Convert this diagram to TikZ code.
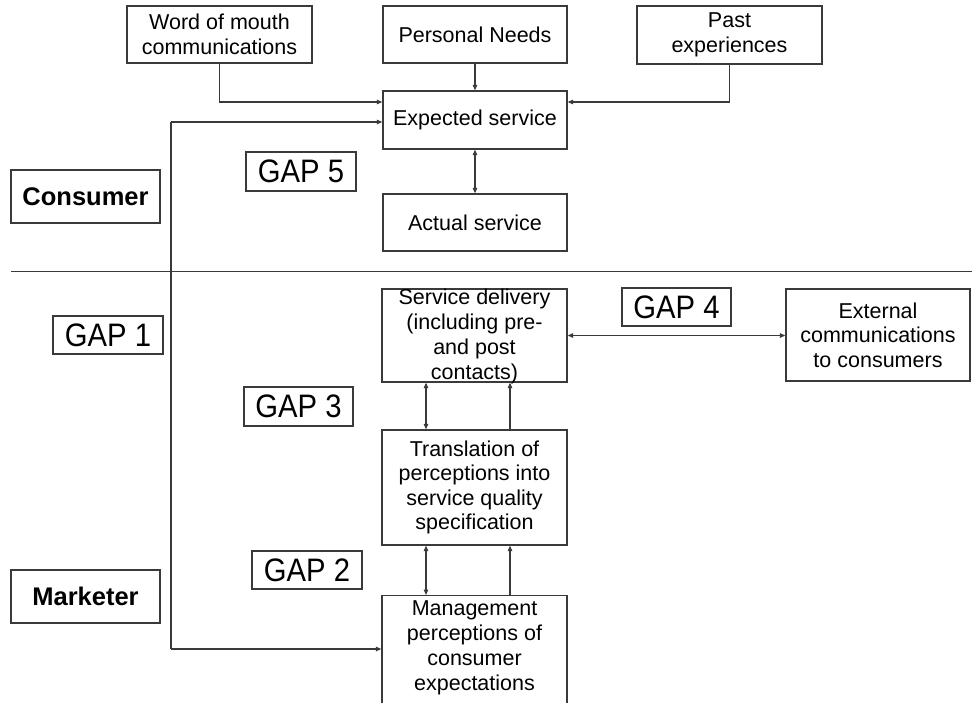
\documentclass[tikz,border=0pt]{standalone}
\usepackage{fontspec}
\setmainfont{Liberation Sans}
\newfontfamily\gapfont{Liberation Sans}[FakeStretch=0.9]
\usetikzlibrary{arrows.meta}
\definecolor{linegray}{HTML}{3A3A3A}
\begin{document}
\begin{tikzpicture}[x=1pt,y=-1pt,
  box/.style={draw=linegray,line width=1.3pt,inner sep=0pt,align=center,
    font=\fontsize{21.5}{24.5}\selectfont},
  size/.style 2 args={minimum width=#1,minimum height=#2},
  gapbox/.style={box,font=\gapfont\fontsize{32.5}{34}\selectfont},
  rolebox/.style={box,font=\fontsize{25.5}{28}\selectfont\bfseries},
  plaintext/.style={inner sep=0pt,align=center,font=\fontsize{21.5}{25}\selectfont},
  conn/.style={draw=linegray,line width=1.1pt},
  tip/.style={-{Triangle[length=5.5pt,width=4.5pt]}},
  twotip/.style={{Triangle[length=5.5pt,width=4.5pt]}-{Triangle[length=5.5pt,width=4.5pt]}}
]
\useasboundingbox (0,0) rectangle (972,702);
\clip (0,0) rectangle (972,702);

% --- consumer side ---
\node[box,size={185}{57}] (wom) at (219.5,34.5) {Word of mouth\\communications};
\node[box,size={184}{57}] (pn) at (475,34.5) {Personal Needs};
\node[box,size={185}{58}] (past) at (729.5,35) {Past\\experiences};
\node[box,size={184}{58}] (exp) at (475,120) {Expected service};
\node[box,size={184}{57}] (act) at (475,222.5) {Actual service};
\node[gapbox,size={110}{39}] (gap5) at (301,171.5) {GAP 5};
\node[rolebox,size={149}{53}] (cons) at (85.5,196.5) {Consumer};

% divider between consumer and marketer
\draw[linegray,line width=1pt] (11,271) -- (972,271);

% --- marketer side ---
\node[box,size={185}{93}] (sd) at (474.5,335.5) {};
\node[plaintext] (sdt) at (474.5,336) {Service delivery\\(including pre-\\and post\\contacts)};
\node[gapbox,size={109}{38}] (gap4) at (676.5,307) {GAP 4};
\node[box,size={184}{92}] (ext) at (878,335) {External\\communications\\to consumers};
\node[gapbox,size={110}{38}] (gap1) at (108,335) {GAP 1};
\node[gapbox,size={109}{39}] (gap3) at (298.5,406.5) {GAP 3};
\node[box,size={185}{115}] (tr) at (474.5,487.5) {Translation of\\perceptions into\\service quality\\specification};
\node[gapbox,size={110}{38}] (gap2) at (307,570) {GAP 2};
\node[rolebox,size={149}{53}] (mk) at (85.5,596.5) {Marketer};
\node[box,size={185}{130},anchor=north] (mg) at (474.5,595) {};
\node[plaintext] (mgt) at (474.5,648) {Management\\perceptions of\\consumer\\expectations};

% --- connectors ---
\draw[conn,tip] (wom.south) |- ([yshift=18pt]exp.west);
\draw[conn,tip] (pn) -- (exp);
\draw[conn,tip] (past.south) |- ([yshift=18pt]exp.east);
\draw[conn,twotip] (exp) -- (act);

\coordinate (ltop) at (171,122);
\coordinate (lbot) at (171,649);
\draw[conn] (ltop) -- (lbot);
\draw[conn,tip] (ltop) -- (exp.west |- ltop);
\draw[conn,tip] (lbot) -- (mg.west |- lbot);

\draw[conn,twotip] (sd.east) -- (sd.east -| ext.west);

\draw[conn,twotip] ([xshift=-48.5pt]sd.south) -- ([xshift=-48.5pt]tr.north);
\draw[conn,tip] ([xshift=35.5pt]tr.north) -- ([xshift=35.5pt]sd.south);
\draw[conn,twotip] ([xshift=-48.5pt]tr.south) -- ([xshift=-48.5pt]mg.north);
\draw[conn,tip] ([xshift=35.5pt]mg.north) -- ([xshift=35.5pt]tr.south);
\end{tikzpicture}
\end{document}
